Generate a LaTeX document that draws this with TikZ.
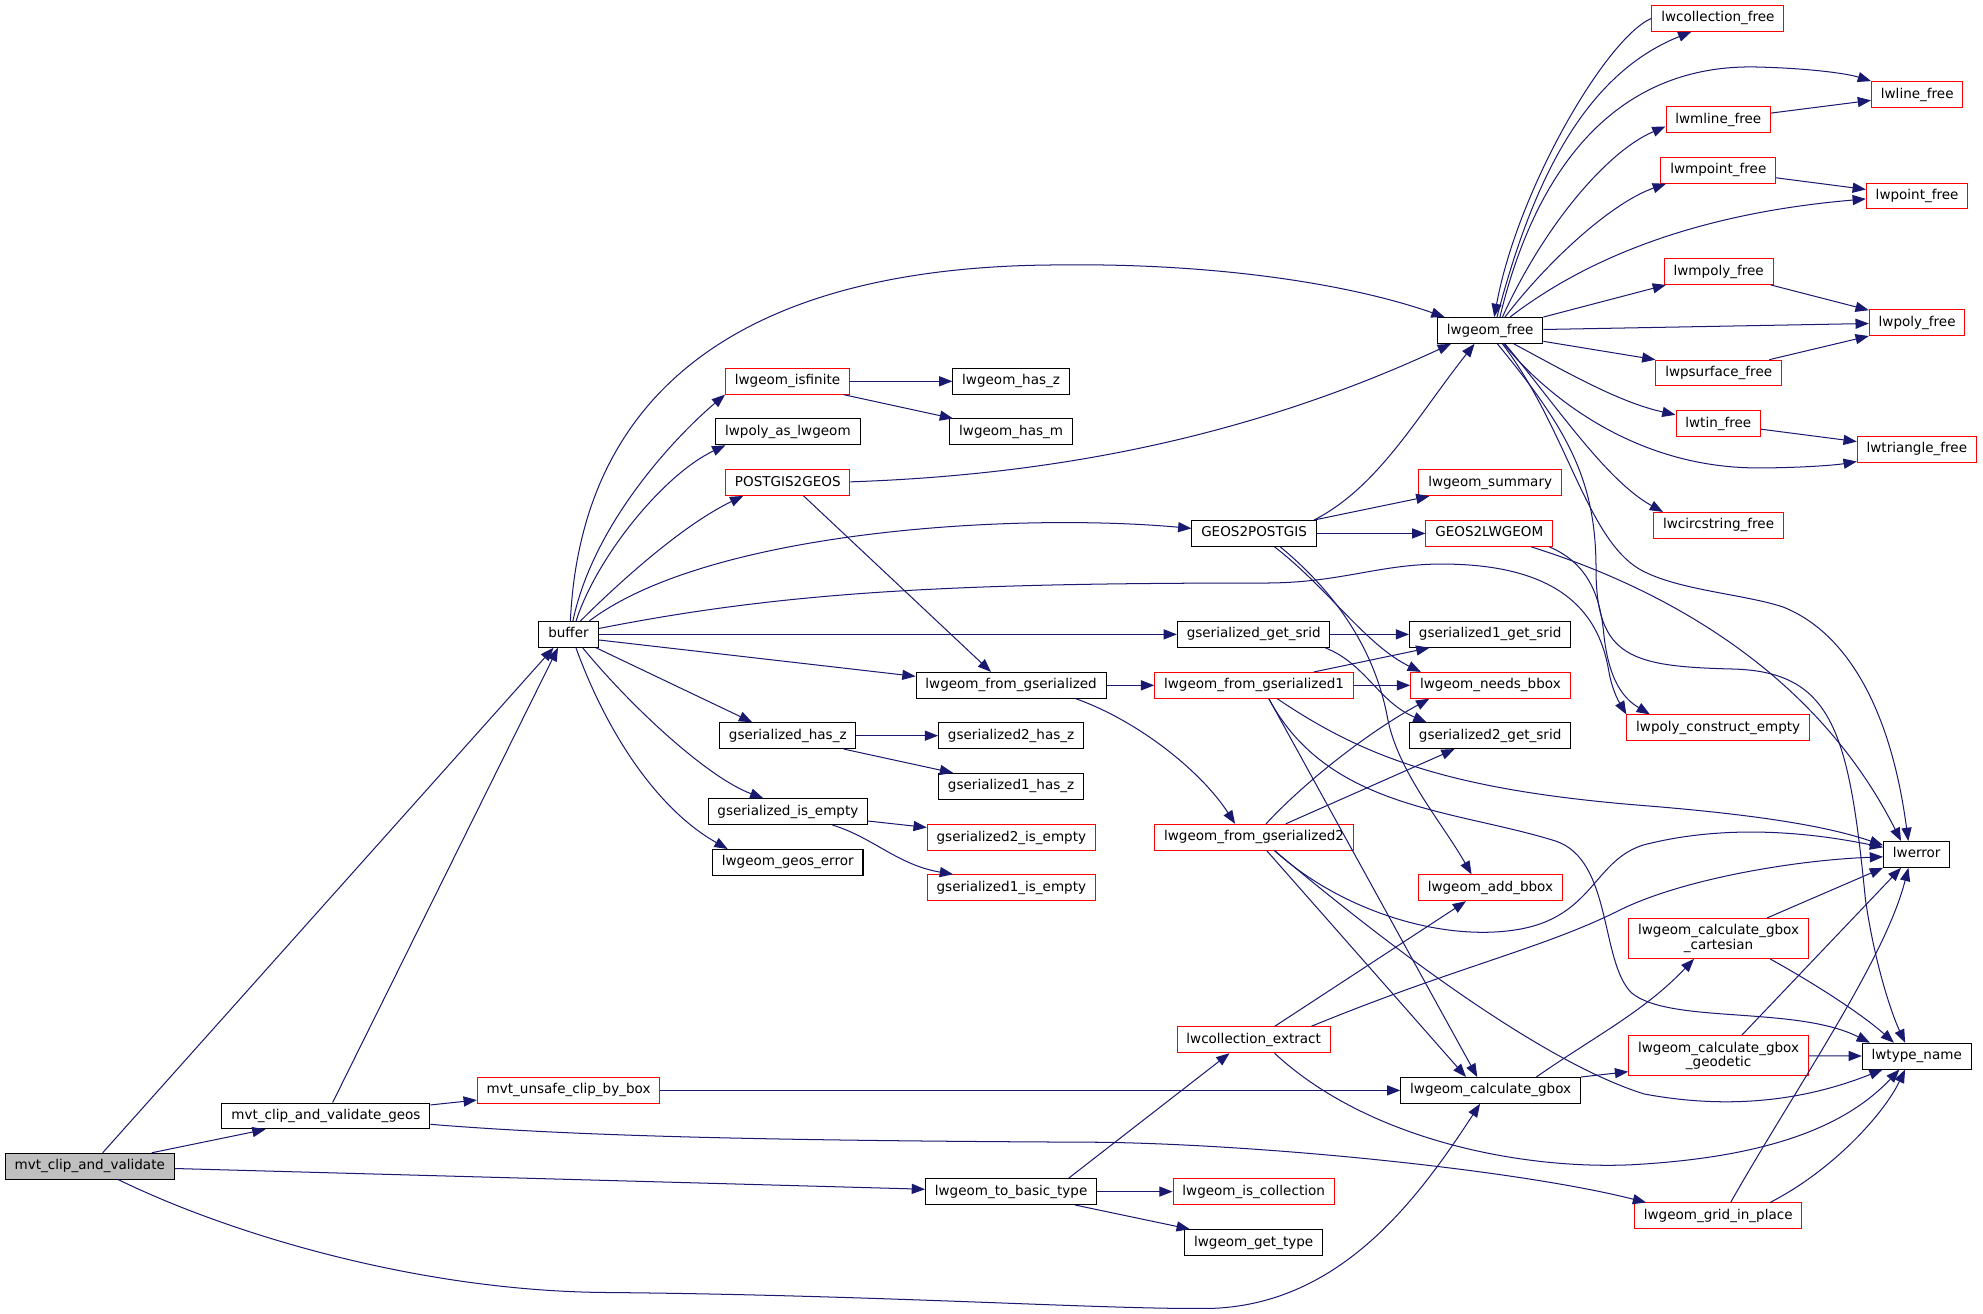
\documentclass[tikz,border=0pt]{standalone}
\usepackage{fontspec}
\newfontfamily\djv{DejaVu Sans}
\usetikzlibrary{arrows.meta}
\definecolor{edgeblue}{HTML}{191970}
\definecolor{rootgray}{HTML}{BFBFBF}
\tikzset{
  nd/.style={draw=black, fill=white, line width=0.8pt, minimum height=20.4pt,
    inner xsep=7.4pt, inner ysep=0pt, text height=8.1pt, text depth=2.5pt,
    font={\djv\fontsize{10.7pt}{11.3pt}\selectfont}},
  rn/.style={nd, draw=red},
  rootnd/.style={nd, fill=rootgray},
  two/.style={draw=red, fill=white, line width=0.8pt, minimum height=31.6pt,
    inner xsep=7.4pt, inner ysep=0pt, align=center,
    font={\djv\fontsize{10.7pt}{11.3pt}\selectfont}},
  e/.style={draw=edgeblue, line width=0.8pt, -{Triangle[length=10.5pt,width=8pt]}}
}
\begin{document}
\begin{tikzpicture}[x=1pt,y=-1pt]
\useasboundingbox (0,0) rectangle (1568,1039);
\fill[white] (0,0) rectangle (1568,1039);
% nodes
\node[rootnd] (root) at (71,922.1) {mvt\_clip\_and\_validate};
\node[nd] (geos) at (257.7,882.4) {mvt\_clip\_and\_validate\_geos};
\node[rn] (unsafe) at (449.6,862.2) {mvt\_unsafe\_clip\_by\_box};
\node[nd] (buffer) at (449.5,501.6) {buffer};
\node[rn] (isfinite) at (622.7,301.5) {lwgeom\_isfinite};
\node[nd] (polyas) at (623,341.5) {lwpoly\_as\_lwgeom};
\node[rn] (p2g) at (622.9,381.5) {POSTGIS2GEOS};
\node[nd] (hasz) at (622.9,581.7) {gserialized\_has\_z};
\node[nd] (isempty) at (623,641.8) {gserialized\_is\_empty};
\node[nd] (geoserr) at (622.9,681.9) {lwgeom\_geos\_error};
\node[nd] (haszz) at (799.5,301.5) {lwgeom\_has\_z};
\node[nd] (hasm) at (799.5,341.5) {lwgeom\_has\_m};
\node[nd] (fromgs) at (799.5,541.9) {lwgeom\_from\_gserialized};
\node[nd] (gstwohasz) at (799.5,581.7) {gserialized2\_has\_z};
\node[nd] (gsonehasz) at (799.5,621.7) {gserialized1\_has\_z};
\node[rn] (gstwoempty) at (799.7,662.3) {gserialized2\_is\_empty};
\node[rn] (gsoneempty) at (799.7,701.9) {gserialized1\_is\_empty};
\node[nd] (tobasic) at (799.5,942.2) {lwgeom\_to\_basic\_type};
\node[rn] (fromgsone) at (991.6,541.9) {lwgeom\_from\_gserialized1};
\node[rn] (fromgstwo) at (991.6,662) {lwgeom\_from\_gserialized2};
\node[nd] (getsrid) at (991.3,501.6) {gserialized\_get\_srid};
\node[nd] (gtp) at (991.6,421.8) {GEOS2POSTGIS};
\node[rn] (collext) at (991.3,822.2) {lwcollection\_extract};
\node[rn] (iscoll) at (991.3,942.2) {lwgeom\_is\_collection};
\node[nd] (gettype) at (991.3,982.5) {lwgeom\_get\_type};
\node[nd] (free) at (1178.3,261.3) {lwgeom\_free};
\node[rn] (summary) at (1178.3,381.7) {lwgeom\_summary};
\node[rn] (gtl) at (1177.6,421.8) {GEOS2LWGEOM};
\node[nd] (gsonesrid) at (1178.3,501.6) {gserialized1\_get\_srid};
\node[rn] (needs) at (1178.5,541.9) {lwgeom\_needs\_bbox};
\node[nd] (gstwosrid) at (1178.3,581.7) {gserialized2\_get\_srid};
\node[rn] (addbbox) at (1178.5,702) {lwgeom\_add\_bbox};
\node[nd] (calc) at (1178.7,862.2) {lwgeom\_calculate\_gbox};
\node[rn] (collfree) at (1358.4,14.5) {lwcollection\_free};
\node[rn] (mlinefree) at (1358.7,94.7) {lwmline\_free};
\node[rn] (mpointfree) at (1358.7,134.7) {lwmpoint\_free};
\node[rn] (mpolyfree) at (1359,214.7) {lwmpoly\_free};
\node[rn] (psurffree) at (1359,295) {lwpsurface\_free};
\node[rn] (tinfree) at (1358.7,335) {lwtin\_free};
\node[rn] (circfree) at (1358.9,415.4) {lwcircstring\_free};
\node[rn] (polyconst) at (1358.6,575.5) {lwpoly\_construct\_empty};
\node[two] (cart) at (1358.9,742) {lwgeom\_calculate\_gbox\\\_cartesian};
\node[two] (geod) at (1358.9,834.7) {lwgeom\_calculate\_gbox\\\_geodetic};
\node[rn] (grid) at (1358.6,961.4) {lwgeom\_grid\_in\_place};
\node[rn] (linefree) at (1516,74.7) {lwline\_free};
\node[rn] (pointfree) at (1515.9,155) {lwpoint\_free};
\node[rn] (polyfree) at (1515.9,255.1) {lwpoly\_free};
\node[rn] (trifree) at (1515.7,355.3) {lwtriangle\_free};
\node[nd] (lwerror) at (1515.6,675.6) {lwerror};
\node[nd] (typename) at (1515.6,835.1) {lwtype\_name};
% edges: root
\draw[e] ([xshift=10.2pt]root.north) -- ([xshift=-11.8pt]buffer.south);
\draw[e] ([xshift=49pt]root.north) -- ([xshift=-47.7pt]geos.south);
\draw[e] (root) -- (tobasic);
\draw[e] ([xshift=22.5pt]root.south) .. controls (180,975) and (330,1021) .. (480,1022)
  .. controls (700,1024) and (880,1036) .. (960,1034.5)
  .. controls (1060,1030) and (1120,950) .. ([xshift=-8.4pt]calc.south);
% geos
\draw[e] ([xshift=5.3pt]geos.north) -- ([xshift=-8.3pt]buffer.south);
\draw[e] (geos) -- (unsafe);
\draw[e] ([yshift=-6.6pt]geos.east) .. controls (450,898) and (600,902) .. (870,903.2)
  .. controls (1000,905) and (1200,925) .. ([xshift=-57pt]grid.north);
\draw[e] (unsafe) -- (calc);
% buffer
\draw[e] ([xshift=1.5pt]buffer.north) .. controls (460,300) and (600,210) .. (837,209.5)
  .. controls (950,208) and (1060,222) .. ([xshift=-36pt]free.north);
\draw[e] ([xshift=3.5pt]buffer.north) .. controls (470,410) and (540,340) .. (isfinite.south west);
\draw[e] ([xshift=6pt]buffer.north) .. controls (472,440) and (525,375) .. ([xshift=-49.4pt]polyas.south);
\draw[e] ([xshift=9.5pt]buffer.north) .. controls (490,460) and (540,415) .. ([xshift=-35.2pt]p2g.south);
\draw[e] ([xshift=16.5pt]buffer.north) .. controls (560,420) and (800,405) .. ([yshift=4pt]gtp.west);
\draw[e] ([yshift=4.6pt]buffer.east) .. controls (620,468) and (750,461) .. (1000,461)
  .. controls (1060,461) and (1090,446) .. (1140,446)
  .. controls (1240,446) and (1265,490) .. (1272,530)
  .. controls (1275,548) and (1282,558) .. (polyconst.north west);
\draw[e] (buffer) -- (getsrid);
\draw[e] ([yshift=-4.4pt]buffer.east) -- ([yshift=7.1pt]fromgs.west);
\draw[e] ([xshift=21.8pt]buffer.south) -- ([xshift=-28.1pt]hasz.north);
\draw[e] ([xshift=11.2pt]buffer.south) .. controls (500,560) and (560,615) .. ([xshift=-19.4pt]isempty.north);
\draw[e] ([xshift=5.9pt]buffer.south) .. controls (480,580) and (520,640) .. ([xshift=-47.5pt]geoserr.north);
% second column
\draw[e] (isfinite) -- (haszz);
\draw[e] ([xshift=44.5pt]isfinite.south) -- ([xshift=-45.9pt]hasm.north);
\draw[e] ([yshift=0.5pt]p2g.east) .. controls (850,375) and (1000,340) .. ([xshift=-31pt]free.south);
\draw[e] ([xshift=12.5pt]p2g.south) -- ([xshift=-15.9pt]fromgs.north);
\draw[e] (hasz) -- (gstwohasz);
\draw[e] ([xshift=44.3pt]hasz.south) -- ([xshift=-45.9pt]gsonehasz.north);
\draw[e] ([yshift=-7.4pt]isempty.east) -- ([yshift=8pt]gstwoempty.west);
\draw[e] ([xshift=35.3pt]isempty.south) .. controls (690,662) and (710,684) .. ([xshift=-46.1pt]gsoneempty.north);
\draw[e] (fromgs) -- (fromgsone);
\draw[e] ([xshift=51.2pt]fromgs.south) .. controls (900,570) and (950,610) .. ([xshift=-15pt]fromgstwo.north);
\draw[e] ([xshift=45.5pt]tobasic.north) -- ([xshift=-19.1pt]collext.south);
\draw[e] (tobasic) -- (iscoll);
\draw[e] (tobasic) -- (gettype);
% third column
\draw[e] (getsrid) -- (gsonesrid);
\draw[e] ([xshift=56.6pt]getsrid.south) .. controls (1080,525) and (1090,555) .. ([xshift=-50.3pt]gstwosrid.north);
\draw[e] ([xshift=47.4pt]gtp.north) .. controls (1090,385) and (1120,330) .. ([xshift=-12.4pt]free.south);
\draw[e] ([xshift=47.4pt]gtp.north) -- ([xshift=-48pt]summary.south);
\draw[e] (gtp) -- (gtl);
\draw[e] ([xshift=16.2pt]gtp.south) .. controls (1050,465) and (1080,510) .. ([xshift=-55pt]needs.north);
\draw[e] ([xshift=20.7pt]gtp.south) .. controls (1070,480) and (1090,530) .. (1097,567)
  .. controls (1105,610) and (1140,650) .. ([xshift=-14.9pt]addbbox.north);
\draw[e] ([xshift=47.4pt]fromgsone.north) -- ([xshift=-48pt]gsonesrid.south);
\draw[e] (fromgsone) -- (needs);
\draw[e] ([xshift=11.7pt]fromgsone.south) -- ([xshift=-10.6pt]calc.north);
\draw[e] ([xshift=18.4pt]fromgsone.south) .. controls (1080,600) and (1150,625) .. (1300,637)
  .. controls (1400,645) and (1450,655) .. ([yshift=7.2pt]lwerror.west);
\draw[e] ([xshift=11.7pt]fromgsone.south) .. controls (1050,640) and (1150,640) .. (1230,665)
  .. controls (1275,680) and (1265,760) .. (1290,785)
  .. controls (1320,810) and (1420,795) .. ([xshift=-37pt]typename.north);
\draw[e] ([xshift=9.5pt]fromgstwo.north) .. controls (1030,620) and (1080,580) .. ([xshift=-48.3pt]needs.south);
\draw[e] ([xshift=25.1pt]fromgstwo.north) -- ([xshift=-28.1pt]gstwosrid.south);
\draw[e] ([xshift=10pt]fromgstwo.south) -- ([xshift=-19.5pt]calc.north);
\draw[e] ([xshift=16.2pt]fromgstwo.south) .. controls (1060,720) and (1140,745) .. (1200,735)
  .. controls (1260,725) and (1260,680) .. (1300,668)
  .. controls (1370,650) and (1440,660) .. ([yshift=5.6pt]lwerror.west);
\draw[e] ([xshift=16.2pt]fromgstwo.south) .. controls (1100,750) and (1220,840) .. (1300,865)
  .. controls (1380,880) and (1440,865) .. ([xshift=-27pt]typename.south);
\draw[e] ([xshift=16.5pt]collext.north) -- ([xshift=-19.3pt]addbbox.south);
\draw[e] ([xshift=45.4pt]collext.north) .. controls (1150,765) and (1220,750) .. (1280,720)
  .. controls (1330,695) and (1420,680) .. ([yshift=-1.9pt]lwerror.west);
\draw[e] ([xshift=16.5pt]collext.south) .. controls (1080,900) and (1200,925) .. (1290,921)
  .. controls (1400,915) and (1460,890) .. ([xshift=-13.7pt]typename.south);
% GEOS2LWGEOM
\draw[e] ([xshift=47.4pt]gtl.south) .. controls (1255,445) and (1265,470) .. (1268,500)
  .. controls (1272,540) and (1285,553) .. ([xshift=-54pt]polyconst.north);
\draw[e] ([xshift=33.2pt]gtl.south) .. controls (1330,470) and (1440,540) .. ([xshift=-12.4pt]lwerror.north);
% calculate gbox
\draw[e] ([xshift=36.1pt]calc.north) .. controls (1260,820) and (1300,800) .. ([xshift=-19.4pt]cart.south);
\draw[e] (calc.north east) -- ([yshift=-12.7pt]geod.west);
\draw[e] ([xshift=38.4pt]cart.north) -- (lwerror.south west);
\draw[e] ([xshift=40.7pt]cart.south) .. controls (1430,775) and (1470,800) .. ([xshift=-18pt]typename.north);
\draw[e] ([xshift=18.4pt]geod.north) -- ([xshift=-12.4pt]lwerror.south);
\draw[e] (geod) -- (typename);
\draw[e] ([xshift=9.8pt]grid.north) .. controls (1420,860) and (1490,760) .. ([xshift=-6.6pt]lwerror.south);
\draw[e] ([xshift=41pt]grid.north) .. controls (1450,925) and (1490,880) .. ([xshift=-9.2pt]typename.south);
% lwgeom_free
\draw[e] ([xshift=5.4pt]free.north) .. controls (1210,150) and (1250,60) .. ([xshift=-21pt]collfree.south);
\draw[e] (collfree.west) .. controls (1270,30) and (1200,150) .. ([xshift=3.2pt]free.north);
\draw[e] ([xshift=7.7pt]free.north) .. controls (1215,130) and (1280,50) .. (1390,53)
  .. controls (1430,54) and (1460,58) .. (linefree.north west);
\draw[e] ([xshift=9.7pt]free.north) .. controls (1220,180) and (1270,120) .. ([yshift=-5.3pt]mlinefree.west);
\draw[e] (mlinefree) -- (linefree);
\draw[e] ([xshift=11.7pt]free.north) .. controls (1225,205) and (1275,160) .. ([xshift=-41.4pt]mpointfree.south);
\draw[e] (mpointfree) -- (pointfree);
\draw[e] ([xshift=15.7pt]free.north) .. controls (1260,200) and (1350,168) .. ([yshift=-2.3pt]pointfree.west);
\draw[e] (free.north east) -- ([xshift=-41.7pt]mpolyfree.south);
\draw[e] (mpolyfree) -- (polyfree);
\draw[e] (free) -- (polyfree);
\draw[e] ([yshift=-8.6pt]free.east) -- (psurffree.north west);
\draw[e] ([xshift=40pt]psurffree.north) -- (polyfree.south west);
\draw[e] ([xshift=18.7pt]free.south) .. controls (1240,295) and (1280,318) .. ([yshift=7pt]tinfree.west);
\draw[e] (tinfree) -- (trifree);
\draw[e] ([xshift=10.7pt]free.south) .. controls (1220,310) and (1290,370) .. (1390,370)
  .. controls (1420,370) and (1450,368) .. ([yshift=1pt]trifree.south west);
\draw[e] ([xshift=11.7pt]free.south) .. controls (1230,320) and (1270,380) .. ([xshift=-43.9pt]circfree.north);
\draw[e] ([xshift=9.7pt]free.south) .. controls (1240,340) and (1255,430) .. (1300,452)
  .. controls (1330,467) and (1380,470) .. (1410,480)
  .. controls (1460,500) and (1495,560) .. ([xshift=-6.7pt]lwerror.north);
\draw[e] ([xshift=5.7pt]free.south) .. controls (1240,340) and (1262,380) .. (1262,450)
  .. controls (1262,520) and (1290,527) .. (1370,529)
  .. controls (1450,531) and (1462,580) .. (1475,711)
  .. controls (1482,760) and (1495,800) .. ([xshift=-9.2pt]typename.north);
\end{tikzpicture}
\end{document}
